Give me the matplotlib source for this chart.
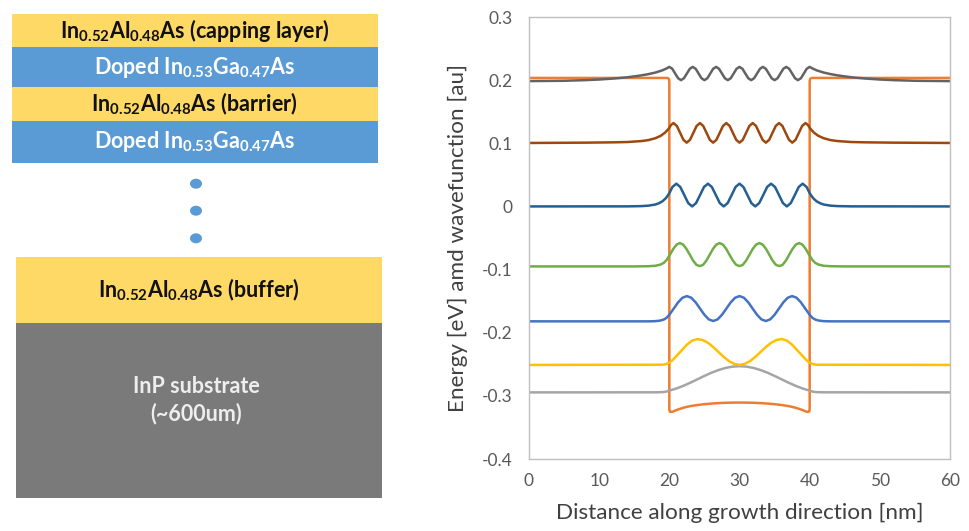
import matplotlib
matplotlib.use("Agg")
import matplotlib.pyplot as plt
from matplotlib.patches import Rectangle, Ellipse

plt.rcParams['font.family'] = ['Lato', 'DejaVu Sans']
plt.rcParams['mathtext.fontset'] = 'custom'
plt.rcParams['mathtext.rm'] = 'Lato'
plt.rcParams['mathtext.bf'] = 'Lato:bold'

# ---------------- layer stack (left) ----------------
layer_labels = [
    r'In$_{\mathbf{0.52}}$Al$_{\mathbf{0.48}}$As (capping layer)',
    r'Doped In$_{\mathbf{0.53}}$Ga$_{\mathbf{0.47}}$As',
    r'In$_{\mathbf{0.52}}$Al$_{\mathbf{0.48}}$As (barrier)',
    r'Doped In$_{\mathbf{0.53}}$Ga$_{\mathbf{0.47}}$As',
    r'In$_{\mathbf{0.52}}$Al$_{\mathbf{0.48}}$As (buffer)',
    'InP substrate\n(~600um)',
]
layer_colors = ['#ffd966', '#5b9bd5', '#ffd966', '#5b9bd5', '#ffd966', '#7a7a7a']
layer_text_colors = ['#111111', '#ffffff', '#111111', '#ffffff', '#111111', '#eeeeee']

# ---------------- band diagram (right) ----------------
x_ticks = [0, 10, 20, 30, 40, 50, 60]
y_ticks = [-0.4, -0.3, -0.2, -0.1, 0.0, 0.1, 0.2, 0.3]
y_tick_labels = ['-0.4', '-0.3', '-0.2', '-0.1', '0', '0.1', '0.2', '0.3']
x_label = 'Distance along growth direction [nm]'
y_label = 'Energy [eV] amd wavefunction [au]'

potential_x = [0, 19.7, 19.9, 19.98, 20.0, 20.0, 20.05, 20.2, 20.5, 21, 22, 23, 24, 25, 26, 27, 28, 29, 30,
               31, 32, 33, 34, 35, 36, 37, 38, 39, 39.5, 39.8, 39.95, 40.0, 40.0, 40.02, 40.1, 40.3, 60]
potential_y = [0.2035, 0.2035, 0.2025, 0.2, 0.196, -0.321, -0.3245, -0.3255, -0.325, -0.3225, -0.3188, -0.3162,
               -0.3145, -0.3132, -0.3122, -0.3115, -0.311, -0.3107, -0.3106,
               -0.3107, -0.311, -0.3115, -0.3122, -0.3132, -0.3145, -0.3162, -0.3188, -0.3225, -0.325, -0.3255,
               -0.3245, -0.321, 0.196, 0.2, 0.2025, 0.2035, 0.2035]

psi1_x = [0, 18, 19, 19.5, 20, 21, 22, 23, 24, 25, 26, 27, 28, 29, 30, 31, 32, 33, 34, 35, 36, 37, 38, 39, 40,
          40.5, 41, 42, 60]
psi1_y = [-0.2945, -0.2944, -0.2941, -0.2935, -0.2917, -0.2884, -0.2841, -0.2791, -0.2738, -0.2684, -0.2634,
          -0.2591, -0.2558, -0.2537, -0.2530, -0.2537, -0.2558, -0.2591, -0.2634, -0.2684, -0.2738, -0.2791,
          -0.2841, -0.2884, -0.2917, -0.2935, -0.2941, -0.2944, -0.2945]

psi2_x = [0, 19, 19.5, 20, 20.5, 21, 21.75, 22.5, 23.25,
          24, 24.75, 25.5, 26.25, 27, 27.75, 28.5, 29.25, 30, 30.75, 31.5, 32.25, 33, 33.75, 34.5, 35.25, 36,
          36.75, 37.5, 38.25, 39, 39.5, 40, 40.5, 41, 60]
psi2_y = [-0.251, -0.2507, -0.2498, -0.2475, -0.243, -0.237, -0.228, -0.219, -0.2125,
          -0.210, -0.2116, -0.216, -0.2227, -0.2305, -0.2383, -0.245, -0.2494, -0.251, -0.2494, -0.245,
          -0.2383, -0.2305, -0.2227, -0.216, -0.2116, -0.210,
          -0.2125, -0.219, -0.228, -0.237, -0.243, -0.2475, -0.2498, -0.2507, -0.251]

psi3_x = [0, 17, 18, 18.7, 19.2, 19.6, 20, 20.625, 21.25, 21.875,
          22.5, 23.125, 23.75, 24.375, 25, 25.625, 26.25, 26.875, 27.5, 28.125, 28.75, 29.375, 30,
          30.625, 31.25, 31.875, 32.5, 33.125, 33.75, 34.375, 35, 35.625, 36.25, 36.875, 37.5,
          38.125, 38.75, 39.375, 40, 40.4, 40.8, 41.3, 42, 43, 60]
psi3_y = [-0.182, -0.182, -0.1817, -0.1808, -0.1792, -0.1765, -0.1716, -0.1618, -0.1519, -0.1446,
          -0.142, -0.1446, -0.1519, -0.1618, -0.1716, -0.1789, -0.1815, -0.1789, -0.1716, -0.1618, -0.1519,
          -0.1446, -0.142,
          -0.1446, -0.1519, -0.1618, -0.1716, -0.1789, -0.1815, -0.1789, -0.1716, -0.1618, -0.1519,
          -0.1446, -0.142,
          -0.1446, -0.1519, -0.1618, -0.1716, -0.1765, -0.1792, -0.1808, -0.1817, -0.182, -0.182]

psi4_x = [0, 15, 17, 18, 18.7, 19.2, 19.6, 20.08, 20.56, 21.03,
          21.5, 21.97, 22.44, 22.92, 23.39, 23.86, 24.33, 24.81, 25.28, 25.75, 26.22, 26.69,
          27.17, 27.64, 28.11, 28.58, 29.06, 29.53, 30, 30.47, 30.94, 31.42, 31.89, 32.36,
          32.83, 33.31, 33.78, 34.25, 34.72, 35.19, 35.67, 36.14, 36.61, 37.08, 37.56, 38.03, 38.5,
          38.97, 39.44, 39.92, 40.4, 40.8, 41.3, 42, 43, 45, 60]
psi4_y = [-0.095, -0.095, -0.0947, -0.094, -0.0922, -0.0895, -0.085, -0.0765, -0.0673, -0.0605,
          -0.058, -0.0605, -0.0673, -0.0765, -0.0858, -0.0925, -0.0945, -0.0925, -0.0858, -0.0765, -0.0673, -0.0605,
          -0.058, -0.0605, -0.0673, -0.0765, -0.0858, -0.0925, -0.0945, -0.0925, -0.0858, -0.0765, -0.0673, -0.0605,
          -0.058, -0.0605, -0.0673, -0.0765, -0.0858, -0.0925, -0.0945, -0.0925, -0.0858, -0.0765, -0.0673, -0.0605,
          -0.058,
          -0.0605, -0.0673, -0.0765, -0.085, -0.0895, -0.0922, -0.094, -0.0947, -0.095, -0.095]

psi5_x = [0, 14, 16, 17, 18, 18.5, 19, 19.5, 20, 20.44,
          21, 21.56, 22.13, 22.69, 23.25, 23.81, 24.38, 24.94, 25.5, 26.06, 26.63, 27.19, 27.75, 28.31,
          28.88, 29.44, 30, 30.56, 31.13, 31.69, 32.25, 32.81, 33.38, 33.94, 34.5, 35.06, 35.63, 36.19,
          36.75, 37.31, 37.88, 38.44, 39,
          39.56, 40, 40.5, 41, 41.5, 42, 43, 44, 46, 60]
psi5_y = [0.0, 0.0001, 0.0005, 0.0012, 0.003, 0.005, 0.008, 0.013, 0.021, 0.0308,
          0.036, 0.0308, 0.018, 0.0053, 0.0, 0.0053, 0.018, 0.0308,
          0.036, 0.0308, 0.018, 0.0053, 0.0, 0.0053, 0.018, 0.0308,
          0.036, 0.0308, 0.018, 0.0053, 0.0, 0.0053, 0.018, 0.0308,
          0.036, 0.0308, 0.018, 0.0053, 0.0, 0.0053, 0.018, 0.0308,
          0.036,
          0.0308, 0.021, 0.013, 0.008, 0.005, 0.003, 0.0012, 0.0005, 0.0001, 0.0]

psi6_x = [0, 8, 12, 14, 16, 17, 18, 18.8, 19.4, 19.9, 20.25,
          20.6, 21.07, 21.54, 22.01, 22.48, 22.95, 23.42, 23.89, 24.36, 24.83, 25.3, 25.77, 26.24, 26.71,
          27.18, 27.65, 28.12, 28.59, 29.06, 29.53, 30.0, 30.47, 30.94, 31.41, 31.88, 32.35, 32.82, 33.29,
          33.76, 34.23, 34.7, 35.17, 35.64, 36.11, 36.58, 37.05, 37.52, 37.99, 38.46, 38.93, 39.4,
          39.75, 40.1, 40.6, 41.2, 42, 43, 44, 46, 48, 52, 60]
psi6_y = [0.1005, 0.101, 0.1015, 0.102, 0.1035, 0.105, 0.108, 0.112, 0.117, 0.123, 0.129,
          0.132, 0.1275, 0.1165, 0.1055, 0.101, 0.1055, 0.1165, 0.1275,
          0.132, 0.1275, 0.1165, 0.1055, 0.101, 0.1055, 0.1165, 0.1275,
          0.132, 0.1275, 0.1165, 0.1055, 0.101, 0.1055, 0.1165, 0.1275,
          0.132, 0.1275, 0.1165, 0.1055, 0.101, 0.1055, 0.1165, 0.1275,
          0.132, 0.1275, 0.1165, 0.1055, 0.101, 0.1055, 0.1165, 0.1275,
          0.132,
          0.129, 0.123, 0.117, 0.112, 0.108, 0.105, 0.1035, 0.102, 0.1015, 0.101, 0.1005]

psi7_x = [0, 5, 8, 10, 12, 14, 16, 17, 18, 19, 19.6,
          20, 20.42, 20.83, 21.25, 21.67, 22.08, 22.5, 22.92, 23.33, 23.75, 24.17, 24.58, 25, 25.42,
          25.83, 26.25, 26.67, 27.08, 27.5, 27.92, 28.33, 28.75, 29.17, 29.58, 30, 30.42, 30.83, 31.25,
          31.67, 32.08, 32.5, 32.92, 33.33, 33.75, 34.17, 34.58, 35, 35.42, 35.83, 36.25, 36.67, 37.08,
          37.5, 37.92, 38.33, 38.75, 39.17, 39.58, 40,
          40.4, 41, 42, 43, 44, 46, 48, 50, 52, 55, 60]
psi7_y = [0.1985, 0.199, 0.2, 0.201, 0.2025, 0.2045, 0.2075, 0.2095, 0.212, 0.2155, 0.2185,
          0.221, 0.218, 0.2105, 0.203, 0.200, 0.203, 0.2105, 0.218,
          0.221, 0.218, 0.2105, 0.203, 0.200, 0.203, 0.2105, 0.218,
          0.221, 0.218, 0.2105, 0.203, 0.200, 0.203, 0.2105, 0.218,
          0.221, 0.218, 0.2105, 0.203, 0.200, 0.203, 0.2105, 0.218,
          0.221, 0.218, 0.2105, 0.203, 0.200, 0.203, 0.2105, 0.218,
          0.221, 0.218, 0.2105, 0.203, 0.200, 0.203, 0.2105, 0.218,
          0.221,
          0.2185, 0.2155, 0.212, 0.2095, 0.2075, 0.2045, 0.2025, 0.201, 0.2, 0.199, 0.1985]

series = [
    (potential_x, potential_y, '#ed7d31'),
    (psi1_x, psi1_y, '#a5a5a5'),
    (psi2_x, psi2_y, '#ffc000'),
    (psi3_x, psi3_y, '#4472c4'),
    (psi4_x, psi4_y, '#70ad47'),
    (psi5_x, psi5_y, '#255e91'),
    (psi6_x, psi6_y, '#9e480e'),
    (psi7_x, psi7_y, '#636363'),
]

W, H = 969, 531
fig = plt.figure(figsize=(W / 100, H / 100), dpi=100)

# background axes in pixel coordinates for the layer stack
bg = fig.add_axes([0, 0, 1, 1])
bg.set_xlim(0, W)
bg.set_ylim(H, 0)
bg.axis('off')

layer_boxes = [  # (x0, x1, y0, y1) in pixels
    (11.7, 377.7, 14.0, 47.3),
    (11.7, 377.7, 47.3, 87.3),
    (11.7, 377.7, 87.3, 120.7),
    (11.7, 377.7, 120.7, 163.3),
    (16.0, 381.7, 257.3, 322.7),
    (16.0, 381.7, 322.7, 498.3),
]
text_centres = [None, None, None, None, None, (196.0, 400.0)]
for lab, col, tcol, (x0, x1, y0, y1), tc in zip(layer_labels, layer_colors, layer_text_colors,
                                                 layer_boxes, text_centres):
    bg.add_patch(Rectangle((x0, y0), x1 - x0, y1 - y0, facecolor=col, edgecolor='none'))
    cx, cy = tc if tc else ((x0 + x1) / 2, (y0 + y1) / 2)
    bg.text(cx, cy, lab, ha='center', va='center', color=tcol, fontsize=15.5,
            fontweight='bold', linespacing=1.35)

for yc in [183.7, 210.7, 238.3]:
    bg.add_patch(Ellipse((196.0, yc), 12, 10, facecolor='#5b9bd5', edgecolor='none'))

# chart axes
ax = fig.add_axes([529 / W, 1 - 459 / H, (950 - 529) / W, (459 - 17) / H])
for x, y, c in series:
    ax.plot(x, y, color=c, lw=1.8, solid_joinstyle='round')

ax.set_xlim(0, 60)
ax.set_ylim(-0.4, 0.3)
ax.set_xticks(x_ticks)
ax.set_yticks(y_ticks)
ax.set_yticklabels(y_tick_labels)
ax.tick_params(length=0, labelsize=12.5, labelcolor='#595959')
ax.tick_params(axis='y', pad=12)
ax.tick_params(axis='x', pad=10)
for s in ax.spines.values():
    s.set_color('#bfbfbf')
    s.set_linewidth(1.0)
ax.set_xlabel(x_label, fontsize=16.2, color='#404040', labelpad=10)
ax.set_ylabel(y_label, fontsize=16.2, color='#404040', labelpad=10)

fig.savefig('out.png', dpi=100)
